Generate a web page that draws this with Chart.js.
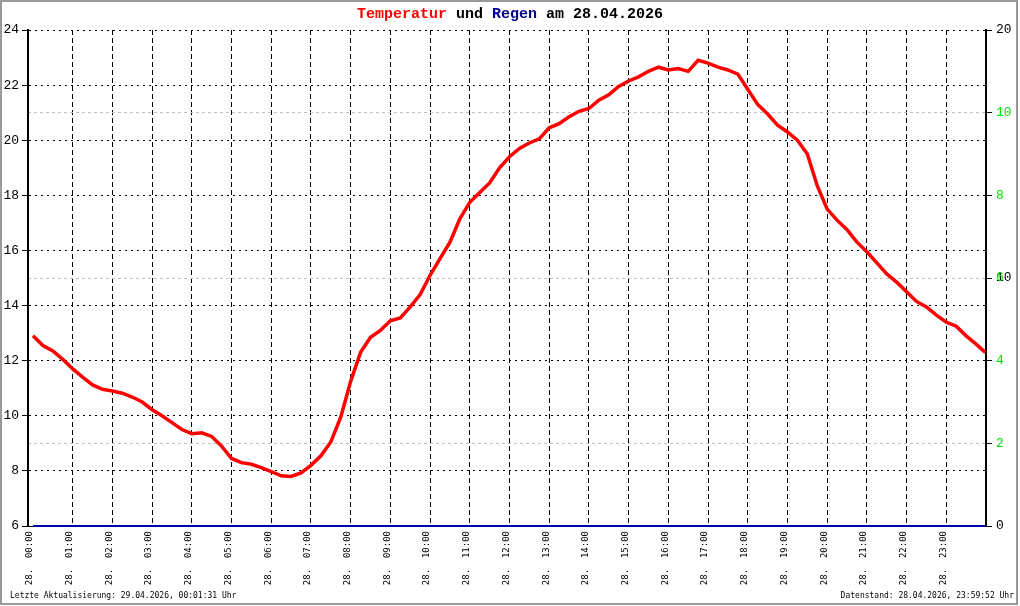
<!DOCTYPE html>
<html>
<head>
<meta charset="utf-8">
<title>Temperatur und Regen</title>
<script src="https://cdn.jsdelivr.net/npm/chart.js@4/dist/chart.umd.min.js"></script>
<style>
  html, body { margin: 0; padding: 0; background: #fff; }
  canvas { display: block; }
</style>
</head>
<body>
<canvas id="wetterChart" width="1020" height="606"></canvas>
<script>
const tempTimes = [
  '00:00','00:15','00:30','00:45','01:00','01:15','01:30','01:45',
  '02:00','02:15','02:30','02:45','03:00','03:15','03:30','03:45',
  '04:00','04:15','04:30','04:45','05:00','05:15','05:30','05:45',
  '06:00','06:15','06:30','06:45','07:00','07:15','07:30','07:45',
  '08:00','08:15','08:30','08:45','09:00','09:15','09:30','09:45',
  '10:00','10:15','10:30','10:45','11:00','11:15','11:30','11:45',
  '12:00','12:15','12:30','12:45','13:00','13:15','13:30','13:45',
  '14:00','14:15','14:30','14:45','15:00','15:15','15:30','15:45',
  '16:00','16:15','16:30','16:45','17:00','17:15','17:30','17:45',
  '18:00','18:15','18:30','18:45','19:00','19:15','19:30','19:45',
  '20:00','20:15','20:30','20:45','21:00','21:15','21:30','21:45',
  '22:00','22:15','22:30','22:45','23:00','23:15','23:30','23:45','23:59'
];
const tempValues = [
  12.9, 12.55, 12.35, 12.05, 11.7, 11.4, 11.12, 10.96,
  10.9, 10.82, 10.68, 10.5, 10.22, 10.0, 9.75, 9.5,
  9.35, 9.38, 9.25, 8.9, 8.45, 8.3, 8.24, 8.12,
  7.97, 7.82, 7.8, 7.93, 8.2, 8.55, 9.05, 9.95,
  11.25, 12.3, 12.85, 13.1, 13.45, 13.55, 13.95, 14.4,
  15.1, 15.7, 16.3, 17.15, 17.75, 18.1, 18.45, 19.0,
  19.4, 19.7, 19.9, 20.05, 20.45, 20.6, 20.85, 21.05,
  21.15, 21.45, 21.65, 21.95, 22.15, 22.3, 22.5, 22.65,
  22.55, 22.6, 22.5, 22.9, 22.8, 22.65, 22.55, 22.4,
  21.85, 21.3, 20.95, 20.55, 20.3, 20.0, 19.5, 18.35,
  17.5, 17.1, 16.75, 16.3, 15.95, 15.55, 15.15, 14.85,
  14.5, 14.15, 13.95, 13.65, 13.4, 13.25, 12.9, 12.6, 12.3
];
const rainTimes = ['00:00', '23:59'];
const rainValues = [0, 0];

const hourLabels = [
  '00:00','01:00','02:00','03:00','04:00','05:00','06:00','07:00',
  '08:00','09:00','10:00','11:00','12:00','13:00','14:00','15:00',
  '16:00','17:00','18:00','19:00','20:00','21:00','22:00','23:00'
];
const tempTicks = [6, 8, 10, 12, 14, 16, 18, 20, 22, 24];
const rainTicks = [0, 10, 20];
const greenTicks = [2, 4, 6, 8, 10];
const greyLines = [2, 6, 10];

const NONE = 'rgba(0,0,0,0)';

function toHours(t) {
  const [h, m] = t.split(':').map(Number);
  return h + m / 60;
}

// Rahmen, Titel und Fusszeilen
const frame = {
  id: 'frame',
  afterLayout(chart) {
    // gruene Skala liegt auf derselben rechten Achse wie die schwarze
    const r = chart.scales.yR, g = chart.scales.yG;
    g.left = r.left;
    g.right = r.right;
    g.width = r.width;
  },
  beforeDraw(chart) {
    const c = chart.ctx;
    c.save();
    c.fillStyle = '#fff';
    c.fillRect(0, 0, chart.width, chart.height);
    c.restore();
  },
  afterDraw(chart) {
    const c = chart.ctx;
    c.save();
    c.strokeStyle = '#9a9a9a';
    c.lineWidth = 2;
    c.strokeRect(1, 1, 1016, 603);

    c.font = 'bold 15px "Liberation Mono"';
    c.textBaseline = 'middle';
    c.textAlign = 'left';
    const parts = [['Temperatur', '#ff0000'], [' und ', '#000000'], ['Regen', '#000090'], [' am 28.04.2026', '#000000']];
    const total = parts.reduce((s, p) => s + c.measureText(p[0]).width, 0);
    let x = chart.width / 2 - total / 2;
    parts.forEach(p => {
      c.fillStyle = p[1];
      c.fillText(p[0], x, 14);
      x += c.measureText(p[0]).width;
    });

    c.font = '8px "DejaVu Sans Mono"';
    c.fillStyle = '#000';
    c.fillText('Letzte Aktualisierung: 29.04.2026, 00:01:31 Uhr', 10, 596);
    c.textAlign = 'right';
    c.fillText('Datenstand: 28.04.2026, 23:59:52 Uhr', 1014, 596);
    c.restore();
  }
};

const axisFont = { family: 'Liberation Mono', size: 13 };

new Chart(document.getElementById('wetterChart'), {
  type: 'line',
  data: {
    datasets: [
      {
        label: 'Temperatur',
        data: tempTimes.map((t, i) => ({ x: toHours(t), y: tempValues[i] })),
        yAxisID: 'y',
        borderColor: '#ff0000',
        borderWidth: 3.5,
        pointRadius: 0,
        tension: 0
      },
      {
        label: 'Regen',
        data: rainTimes.map((t, i) => ({ x: toHours(t), y: rainValues[i] })),
        yAxisID: 'yG',
        borderColor: '#0000b0',
        borderWidth: 2,
        pointRadius: 0,
        clip: 4
      }
    ]
  },
  options: {
    responsive: false,
    animation: false,
    events: [],
    layout: { padding: { top: 30, left: 0, right: 0, bottom: 0 } },
    plugins: {
      legend: { display: false },
      tooltip: { enabled: false },
      title: { display: false }
    },
    scales: {
      x: {
        type: 'linear',
        min: -0.126,
        max: 24,
        afterBuildTicks: s => { s.ticks = hourLabels.map((_, i) => ({ value: i })); },
        afterFit: s => { s.height = 80; },
        ticks: {
          autoSkip: false,
          minRotation: 90,
          maxRotation: 90,
          padding: 5,
          labelOffset: -3,
          color: '#000',
          font: { family: 'DejaVu Sans Mono', size: 9 },
          callback: (v, i) => '28.  ' + hourLabels[i]
        },
        grid: {
          color: ctx => (ctx.tick && ctx.tick.value === 0) ? NONE : '#000',
          lineWidth: 1,
          drawTicks: false,
          tickLength: 0
        },
        border: { display: true, color: '#000', width: 1, dash: [5, 3] }
      },
      y: {
        position: 'left',
        min: 6,
        max: 24,
        afterBuildTicks: s => { s.ticks = tempTicks.map(v => ({ value: v })); },
        afterFit: s => { s.width = 28; },
        ticks: { padding: 3, color: '#000', font: axisFont },
        grid: {
          color: ctx => (ctx.tick && ctx.tick.value === 6) ? NONE : '#000',
          lineWidth: 1,
          tickColor: '#000',
          tickLength: 6,
          tickBorderDash: []
        },
        border: { color: '#000', width: 2, dash: [2, 4] }
      },
      yR: {
        position: 'right',
        weight: 0,
        min: 0,
        max: 20,
        afterBuildTicks: s => { s.ticks = rainTicks.map(v => ({ value: v })); },
        afterFit: s => { s.width = 34; },
        ticks: { padding: 4, color: '#000', font: axisFont },
        grid: { drawOnChartArea: false, tickColor: '#000', tickLength: 6, tickBorderDash: [] },
        border: { color: '#000', width: 2 }
      },
      yG: {
        position: 'right',
        weight: 1,
        min: 0,
        max: 12,
        afterBuildTicks: s => { s.ticks = greenTicks.map(v => ({ value: v })); },
        afterFit: s => { s.width = 0; },
        ticks: { padding: 4, color: '#00e000', font: axisFont },
        grid: {
          color: ctx => (ctx.tick && greyLines.includes(ctx.tick.value)) ? '#c0c0c0' : NONE,
          lineWidth: 1,
          tickColor: '#000',
          tickLength: 6,
          tickBorderDash: []
        },
        border: { display: false, dash: [3, 3] }
      }
    }
  },
  plugins: [frame]
});
</script>
</body>
</html>
